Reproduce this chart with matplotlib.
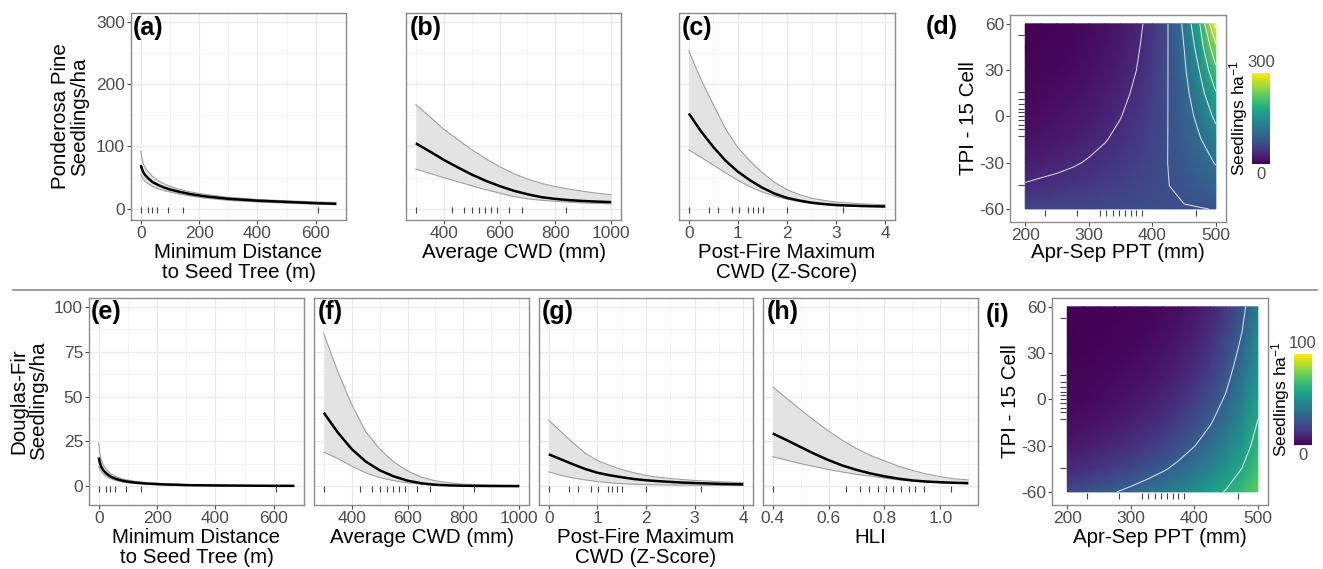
import matplotlib
matplotlib.use("Agg")
import matplotlib.pyplot as plt
import numpy as np
from matplotlib.lines import Line2D
from matplotlib.cm import ScalarMappable
from matplotlib.colors import Normalize

plt.rcParams['font.family'] = ['Liberation Sans', 'DejaVu Sans']
plt.rcParams['axes.unicode_minus'] = False
plt.rcParams['mathtext.default'] = 'regular'

# ---- data ----
dist_x = [0, 3, 8, 15, 25, 40, 60, 80, 100, 130, 170, 220, 300, 400, 500, 600, 670]
pp_dist_mean = [70, 65, 59, 54, 49, 43, 38, 34, 31, 27.5, 23.5, 20, 16, 13, 11, 9, 8]
pp_dist_lo = [55, 52, 48, 44, 40.5, 36, 32, 29, 27, 24, 20.5, 17.3, 13.5, 11, 9, 7.5, 6.5]
pp_dist_hi = [92, 83, 73, 66, 60, 52, 45, 40, 36, 31.5, 27, 23, 18.5, 15, 12.8, 11, 10]
df_dist_mean = [16, 13.5, 11, 9, 7.2, 5.4, 4, 3.1, 2.5, 1.9, 1.4, 1.0, 0.6, 0.4, 0.3, 0.2, 0.2]
df_dist_lo = [11, 9.8, 8.2, 6.8, 5.5, 4.2, 3.1, 2.4, 1.9, 1.45, 1.05, 0.75, 0.4, 0.25, 0.15, 0.1, 0.1]
df_dist_hi = [24, 19, 15, 12, 9.5, 7.1, 5.3, 4.1, 3.4, 2.6, 1.9, 1.45, 0.9, 0.6, 0.4, 0.3, 0.3]

cwd_x = [300, 350, 400, 450, 500, 550, 600, 650, 700, 750, 800, 850, 900, 950, 1000]
pp_cwd_mean = [105, 92, 78.5, 66.5, 55, 45, 36.5, 29, 23.3, 18.6, 15.8, 13.8, 12.5, 11.5, 10.7]
pp_cwd_lo = [63.6, 57, 50, 43.5, 37, 30.7, 25.3, 19.6, 16, 13.6, 12, 10.6, 9.4, 8.6, 8]
pp_cwd_hi = [167, 148, 127.5, 111, 95, 80.5, 67.5, 56.5, 47.8, 40.8, 35.5, 31.5, 28, 25, 22.4]
df_cwd_mean = [41, 30, 20.7, 13.8, 8.9, 5.5, 3.1, 1.6, 0.8, 0.45, 0.25, 0.15, 0.1, 0.06, 0.04]
df_cwd_lo = [19, 15.5, 11.2, 7.5, 4.8, 3.1, 1.9, 1.1, 0.5, 0.25, 0.12, 0.06, 0.03, 0.02, 0.01]
df_cwd_hi = [85, 64, 45.5, 30.5, 20.8, 13.6, 8.5, 5, 3, 1.9, 1.1, 0.8, 0.6, 0.5, 0.4]

z_x = [0, 0.25, 0.5, 0.75, 1, 1.25, 1.5, 1.75, 2, 2.25, 2.5, 2.75, 3, 3.5, 4]
pp_z_mean = [153, 124, 99, 77, 59.5, 45.5, 33.7, 24.2, 17.5, 13.2, 9.8, 7.6, 6, 4.5, 3.7]
pp_z_lo = [94.5, 82.5, 70, 57.5, 45.5, 35, 27, 20.2, 15.3, 11.5, 8.4, 6.6, 5.2, 3.6, 2.7]
pp_z_hi = [253, 207, 167, 128, 98, 76, 57.5, 42.2, 30.5, 22.7, 17, 13.5, 10.7, 8, 6.4]
df_z_mean = [17.8, 15, 12.2, 9.6, 7.5, 6.1, 5, 4.0, 3.3, 2.8, 2.4, 2.0, 1.75, 1.3, 1.0]
df_z_lo = [8, 6.1, 4.6, 3.5, 2.6, 1.9, 1.4, 1.1, 0.9, 0.8, 0.7, 0.6, 0.55, 0.45, 0.4]
df_z_hi = [36.8, 30.5, 24.2, 18.4, 14.3, 11.6, 9.3, 7.5, 6, 5.0, 4.3, 3.7, 3.2, 2.5, 2]

hli_x = [0.4, 0.45, 0.5, 0.55, 0.6, 0.65, 0.7, 0.75, 0.8, 0.85, 0.9, 0.95, 1.0, 1.05, 1.1]
df_hli_mean = [29.4, 25.7, 21.8, 18, 14.5, 11.5, 9.1, 7.1, 5.5, 4.2, 3.2, 2.6, 2.2, 1.9, 1.7]
df_hli_lo = [16.4, 14.5, 12.6, 10.9, 9.3, 7.9, 6.6, 5.6, 4.5, 3.5, 2.8, 2.2, 1.9, 1.6, 1.3]
df_hli_hi = [55.4, 48.9, 42.6, 36.5, 30.7, 25.5, 21, 17.2, 14.1, 11.2, 8.8, 6.8, 5.3, 4.1, 3.5]

dist_rug = [0, 24, 40, 57, 95, 144, 606]
cwd_rug = [300, 429, 472, 501, 525, 548, 569, 590, 634, 680, 838]
z_rug = [0, 0.41, 0.6, 0.87, 1.02, 1.21, 1.31, 1.41, 1.51, 2.0, 3.14]
hli_rug = [0.40, 0.663, 0.711, 0.744, 0.776, 0.805, 0.829, 0.858, 0.888, 0.911, 0.942, 1.04]
ppt_rug = [231, 282, 317, 327, 338, 348, 357, 367, 375, 383, 469]
tpi_rug = [53, 15.5, 11, 8, 5, 2.5, 0, -2.5, -5.5, -8.5, -13, -44.5]

# surfaces: rows = TPI (-60..60 by 15), cols = PPT (200..500 by 25)
ppt_grid = [200, 225, 250, 275, 300, 325, 350, 375, 400, 425, 450, 475, 500]
tpi_grid = [-60, -45, -30, -15, 0, 15, 30, 45, 60]
pp_surface = [
    [62, 62, 63, 64, 65, 66, 67, 68.6, 69, 69.5, 70.2, 71, 72.8],
    [38, 41, 43, 46, 49, 53, 57, 62, 67, 71.5, 78.6, 85.7, 93.7],
    [24, 26.5, 30, 33.5, 38, 43, 49, 55, 63, 72.3, 82.9, 95.3, 109.9],
    [15, 17.3, 20.5, 24.4, 29, 34.6, 41.5, 50, 60, 72.3, 87.4, 106.1, 129],
    [9, 11.3, 14.1, 17.7, 22, 28, 35.3, 45, 57, 72.3, 92.2, 118, 151.4],
    [5.6, 7.4, 9.7, 12.8, 17, 22.6, 30, 40, 54, 72.3, 97.3, 131.2, 177.7],
    [3.5, 4.8, 6.7, 9.3, 13, 18.3, 25.7, 36, 51, 72.3, 102.6, 146.1, 208.5],
    [2.1, 3.1, 4.6, 6.8, 10, 14.8, 21.9, 32.5, 48, 72.3, 108.2, 162.6, 244.7],
    [1.3, 2.05, 3.2, 4.9, 7.7, 11.9, 18.6, 29, 46, 72.3, 114.2, 180.7, 298],
]
df_surface = [
    [21.7, 24.1, 26.7, 29.6, 32.8, 36.4, 40.4, 44.8, 49.6, 55.1, 61, 67.7, 75.1],
    [11.5, 13.4, 15.6, 18.1, 21, 24.4, 28.4, 33, 38.3, 44.5, 51.8, 60.2, 69.9],
    [6.11, 7.44, 9.06, 11, 13.4, 16.4, 19.9, 24.3, 29.6, 36, 43.9, 53.5, 65.1],
    [3.24, 4.14, 5.28, 6.74, 8.6, 11, 14, 17.9, 22.8, 29.1, 37.2, 47.5, 60.6],
    [1.72, 2.3, 3.08, 4.12, 5.5, 7.37, 9.85, 13.2, 17.6, 23.6, 31.5, 42.2, 56.4],
    [0.91, 1.28, 1.79, 2.51, 3.52, 4.94, 6.93, 9.71, 13.6, 19.1, 26.8, 37.5, 52.6],
    [0.48, 0.71, 1.05, 1.54, 2.25, 3.31, 4.87, 7.15, 10.5, 15.4, 22.7, 33.3, 49],
    [0.26, 0.4, 0.61, 0.94, 1.44, 2.22, 3.42, 5.27, 8.11, 12.5, 19.2, 29.6, 45.6],
    [0.14, 0.22, 0.36, 0.57, 0.92, 1.49, 2.41, 3.88, 6.26, 10.1, 16.3, 26.3, 42.4],
]
pp_levels = [36, 72, 108, 144, 180, 216, 252, 288]
df_levels = [30, 60]

W, H = 1323, 569
fig = plt.figure(figsize=(W / 100, H / 100), dpi=100)

BORDER = '#8C8C8C'
TICKC = '#4D4D4D'


def rect(l, t, r, b):
    return [l / W, 1 - b / H, (r - l) / W, (b - t) / H]


def ftext(x, y, s, **kw):
    return fig.text(x / W, 1 - y / H, s, **kw)


def style(ax, show_y):
    for s in ax.spines.values():
        s.set_color(BORDER)
        s.set_linewidth(1.0)
    ax.tick_params(which='major', length=2.8, width=0.8, color=TICKC,
                   labelcolor=TICKC, labelsize=12.5, pad=1.5)
    ax.tick_params(which='minor', length=0)
    if not show_y:
        ax.tick_params(axis='y', which='both', labelleft=False, length=0)


def line_panel(box, x, mean, lo, hi, rug, xlim, ylim, xt, xm, yt, ym, show_y, xlabels=None):
    ax = fig.add_axes(rect(*box))
    ax.set_xlim(xlim)
    ax.set_ylim(ylim)
    ax.set_xticks(xt)
    if xlabels:
        ax.set_xticklabels(xlabels)
    ax.set_xticks(xm, minor=True)
    ax.set_yticks(yt)
    ax.set_yticks(ym, minor=True)
    ax.grid(which='major', color='#EBEBEB', lw=1.0)
    ax.grid(which='minor', color='#F3F3F3', lw=0.6)
    ax.set_axisbelow(True)
    ax.fill_between(x, lo, hi, color='#E3E3E3', lw=0, zorder=2)
    ax.plot(x, lo, color='#A0A0A0', lw=0.8, zorder=3)
    ax.plot(x, hi, color='#A0A0A0', lw=0.8, zorder=3)
    ax.plot(x, mean, color='black', lw=1.8, zorder=4, solid_capstyle='butt',
            solid_joinstyle='round')
    ry = ylim[0] * 0.15
    ax.plot(rug, [ry] * len(rug), ls='none', marker='|', ms=4, mec='#444444', mew=0.8, zorder=5)
    style(ax, show_y)
    return ax


def heat_panel(box, surface, levels, vmax, cbox):
    ax = fig.add_axes(rect(*box))
    z = np.array(surface)
    ax.pcolormesh(ppt_grid, tpi_grid, z, cmap='viridis', vmin=0, vmax=vmax,
                  shading='gouraud', rasterized=True)
    ax.contour(ppt_grid, tpi_grid, z, levels=levels, colors='white',
               linewidths=0.75, alpha=0.8)
    ax.plot(ppt_rug, [-62.5] * len(ppt_rug), ls='none', marker='|', ms=4.5,
            mec='#444444', mew=0.8)
    ax.plot([194] * len(tpi_rug), tpi_rug, ls='none', marker='_', ms=4.5,
            mec='#444444', mew=0.8)
    ax.set_xlim(176, 516)
    ax.set_ylim(-68.5, 65.7)
    ax.set_xticks([200, 300, 400, 500])
    ax.set_yticks([-60, -30, 0, 30, 60])
    ax.set_yticklabels(['-60', '-30', '0', '30', '60'])
    style(ax, True)
    cax = fig.add_axes(rect(*cbox))
    cb = fig.colorbar(ScalarMappable(norm=Normalize(0, vmax), cmap='viridis'), cax=cax)
    cb.outline.set_visible(False)
    cb.set_ticks([])
    cx = (cbox[0] + cbox[2]) / 2
    ftext(cx, cbox[1] - 3, str(vmax), ha='center', va='bottom', fontsize=12, color=TICKC)
    ftext(cx, cbox[3] + 3, '0', ha='center', va='top', fontsize=12, color=TICKC)
    ftext(cbox[0] - 13, (cbox[1] + cbox[3]) / 2, 'Seedlings ha$^{-1}$', rotation=90,
          ha='center', va='center', fontsize=12.5)
    return ax


TOP = (-18, 314)
BOT = (-10.5, 105)

# top row: ponderosa pine
line_panel((131, 13, 346, 220), dist_x, pp_dist_mean, pp_dist_lo, pp_dist_hi, dist_rug,
           (-33.5, 703.5), TOP, [0, 200, 400, 600], [100, 300, 500],
           [0, 100, 200, 300], [50, 150, 250], True)
line_panel((406, 13, 621, 220), cwd_x, pp_cwd_mean, pp_cwd_lo, pp_cwd_hi, cwd_rug,
           (265, 1035), TOP, [400, 600, 800, 1000], [300, 500, 700, 900],
           [0, 100, 200, 300], [50, 150, 250], False)
line_panel((679, 13, 895, 220), z_x, pp_z_mean, pp_z_lo, pp_z_hi, z_rug,
           (-0.2, 4.2), TOP, [0, 1, 2, 3, 4], [0.5, 1.5, 2.5, 3.5],
           [0, 100, 200, 300], [50, 150, 250], False)
heat_panel((1010, 15, 1226, 222), pp_surface, pp_levels, 300, (1252, 73, 1270, 164))

# bottom row: douglas-fir
ybt = [0, 25, 50, 75, 100]
ybm = [12.5, 37.5, 62.5, 87.5]
line_panel((89, 298, 304, 505), dist_x, df_dist_mean, df_dist_lo, df_dist_hi, dist_rug,
           (-33.5, 703.5), BOT, [0, 200, 400, 600], [100, 300, 500], ybt, ybm, True)
line_panel((314, 298, 529, 505), cwd_x, df_cwd_mean, df_cwd_lo, df_cwd_hi, cwd_rug,
           (265, 1035), BOT, [400, 600, 800, 1000], [300, 500, 700, 900], ybt, ybm, False)
line_panel((539, 298, 753, 505), z_x, df_z_mean, df_z_lo, df_z_hi, z_rug,
           (-0.2, 4.2), BOT, [0, 1, 2, 3, 4], [0.5, 1.5, 2.5, 3.5], ybt, ybm, False)
line_panel((763, 298, 978, 505), hli_x, df_hli_mean, df_hli_lo, df_hli_hi, hli_rug,
           (0.365, 1.135), BOT, [0.4, 0.6, 0.8, 1.0], [0.5, 0.7, 0.9, 1.1], ybt, ybm, False,
           xlabels=['0.4', '0.6', '0.8', '1.0'])
heat_panel((1052, 298, 1268, 505), df_surface, df_levels, 100, (1294, 354, 1312, 445))

# axis titles
TS = 14.8
for cx, s in [(238.5, 'Minimum Distance\nto Seed Tree (m)'), (513.5, 'Average CWD (mm)'),
              (787, 'Post-Fire Maximum\nCWD (Z-Score)'), (1118, 'Apr-Sep PPT (mm)')]:
    ftext(cx, 243, s, ha='center', va='top', fontsize=TS, linespacing=1.05)
for cx, s in [(196.5, 'Minimum Distance\nto Seed Tree (m)'), (421.5, 'Average CWD (mm)'),
              (646, 'Post-Fire Maximum\nCWD (Z-Score)'), (870.5, 'HLI'),
              (1160, 'Apr-Sep PPT (mm)')]:
    ftext(cx, 528, s, ha='center', va='top', fontsize=TS, linespacing=1.05)

ftext(70, 116.5, 'Ponderosa Pine\nSeedlings/ha', rotation=90, ha='center', va='center',
      fontsize=TS, linespacing=1.05)
ftext(29, 401, 'Douglas-Fir\nSeedlings/ha', rotation=90, ha='center', va='center',
      fontsize=TS, linespacing=1.05)
ftext(969, 118.5, 'TPI - 15 Cell', rotation=90, ha='center', va='center', fontsize=TS)
ftext(1011, 401.5, 'TPI - 15 Cell', rotation=90, ha='center', va='center', fontsize=TS)

# panel tags
for x, y, s in [(133, 16, '(a)'), (410, 16, '(b)'), (682, 16, '(c)'), (926, 15, '(d)'),
                (91, 300, '(e)'), (318, 300, '(f)'), (542, 300, '(g)'), (767, 300, '(h)'),
                (986, 303, '(i)')]:
    ftext(x, y, s, ha='left', va='top', fontsize=18, fontweight='bold')

# separator between species rows
fig.add_artist(Line2D([13 / W, 1317 / W], [1 - 289.7 / H] * 2, color='#8C8C8C', lw=1.2))

fig.savefig('out.png', dpi=100)
